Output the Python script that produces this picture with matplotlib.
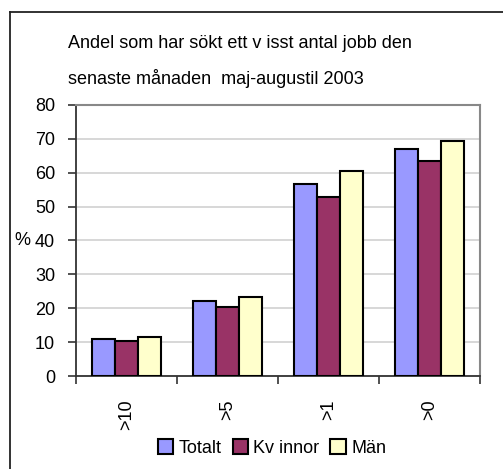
import matplotlib
matplotlib.use("Agg")
import matplotlib.pyplot as plt
import numpy as np
from matplotlib.patches import Rectangle
from matplotlib.lines import Line2D
from matplotlib import font_manager

names = {f.name for f in font_manager.fontManager.ttflist}
if "Liberation Sans Narrow" in names:
    FAM = ['Liberation Sans Narrow', 'Liberation Sans', 'DejaVu Sans']
    FS = 14
else:
    FAM = ['Liberation Sans', 'DejaVu Sans']
    FS = 13
plt.rcParams['font.family'] = FAM

categories = [">10", ">5", ">1", ">0"]
series_names = ["Totalt", "Kv innor", "Män"]
totalt = [11.0, 22.2, 56.8, 67.0]
kvinnor = [10.4, 20.5, 52.9, 63.5]
man = [11.6, 23.4, 60.6, 69.4]
colors = ["#9999FF", "#993366", "#FFFFCC"]
title_lines = ["Andel som har sökt ett v isst antal jobb den",
               "senaste månaden  maj-augustil 2003"]
yticks = [0, 10, 20, 30, 40, 50, 60, 70, 80]

W, H = 503, 469
fig = plt.figure(figsize=(W / 100, H / 100), dpi=100)
fig.patch.set_facecolor("white")

# outer frame (extends past right and bottom)
fig.add_artist(Line2D([10 / W, 10 / W], [1 - 12 / H, -0.1], transform=fig.transFigure,
                      color="#222222", lw=1.3))
fig.add_artist(Line2D([10 / W, 1.1], [1 - 12 / H, 1 - 12 / H], transform=fig.transFigure,
                      color="#222222", lw=1.3))

ax = fig.add_axes([76 / W, 1 - 376 / H, (480 - 76) / W, (376 - 105) / H])
x = np.arange(len(categories))
bw = 0.225
for i, (vals, c, name) in enumerate(zip([totalt, kvinnor, man], colors, series_names)):
    ax.bar(x + (i - 1) * bw, vals, bw, color=c, edgecolor="black", linewidth=1.5,
           label=name, zorder=3)

ax.set_xlim(-0.5, len(categories) - 0.5)
ax.set_ylim(0, 80)
ax.set_yticks(yticks)
ax.set_yticklabels([str(t) for t in yticks], fontsize=FS)
ax.yaxis.grid(True, color="#d4d4d4", lw=1.3, zorder=0)
ax.set_axisbelow(True)

ax.set_xticks(x)
ax.set_xticklabels(categories, rotation=90, fontsize=FS, va="top")
ax.set_xticks(np.arange(len(categories) + 1) - 0.5, minor=True)
ax.tick_params(axis="x", which="major", length=0, pad=17)
ax.tick_params(axis="x", which="minor", length=6, width=1.2, color="#333333", direction="out")
ax.tick_params(axis="y", length=6, width=1.2, color="#333333", pad=9)

for s in ["top", "right"]:
    ax.spines[s].set_color("#888888")
    ax.spines[s].set_linewidth(1.5)
for s in ["left", "bottom"]:
    ax.spines[s].set_color("#333333")
    ax.spines[s].set_linewidth(1.3)

fig.text(68 / W, 1 - 44 / H, title_lines[0], fontsize=FS, va="center", ha="left")
fig.text(68 / W, 1 - 79 / H, title_lines[1], fontsize=FS, va="center", ha="left")
fig.text(14 / W, 1 - 240 / H, "%", fontsize=FS, va="center", ha="left")

handles = [Rectangle((0, 0), 1, 1, facecolor=c, edgecolor="black", lw=1.5) for c in colors]
fig.legend(handles, series_names, loc="center", bbox_to_anchor=(272 / W, 1 - 448 / H),
           ncol=3, frameon=False, fontsize=FS, handlelength=0.85, handleheight=0.9,
           handletextpad=0.3, columnspacing=0.6, borderaxespad=0)

fig.savefig("out.png", dpi=100, facecolor="white")
